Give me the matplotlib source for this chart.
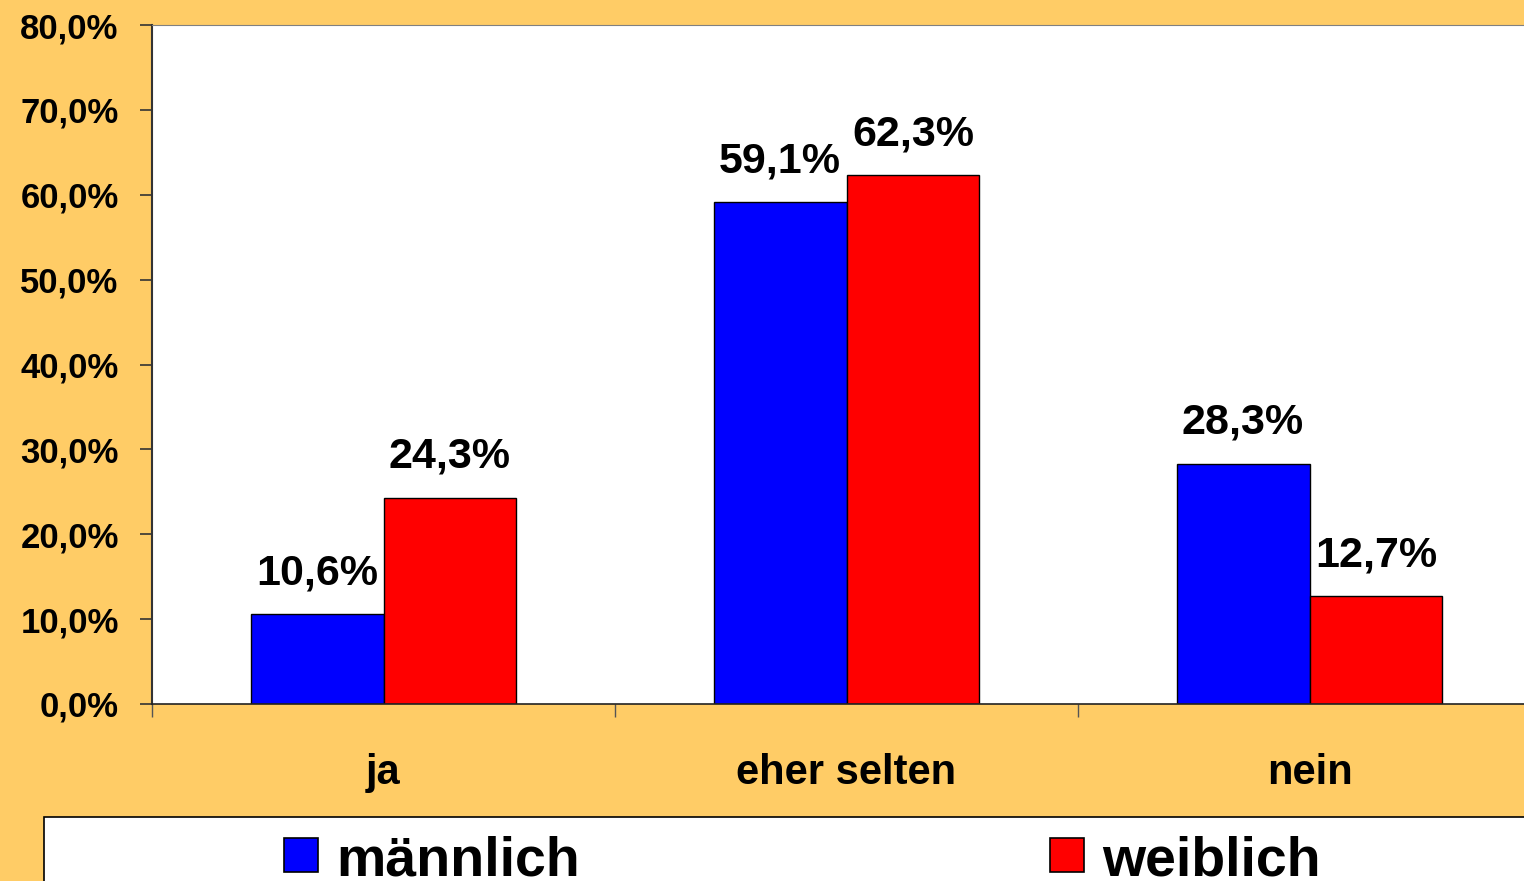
import numpy as np
import matplotlib
matplotlib.use("Agg")
import matplotlib.pyplot as plt
from matplotlib.patches import Rectangle

kategorien = ["ja", "eher selten", "nein"]
maennlich = [10.6, 59.1, 28.3]
weiblich = [24.3, 62.3, 12.7]
serien = ["männlich", "weiblich"]
farben = ["#0000FF", "#FF0000"]
y_ticks = [0, 10, 20, 30, 40, 50, 60, 70, 80]

plt.rcParams['font.family'] = ['Liberation Sans', 'DejaVu Sans']
plt.rcParams['font.weight'] = 'bold'

W, H = 1524, 881
fig = plt.figure(figsize=(W / 100, H / 100), dpi=100)
fig.patch.set_facecolor("#FFCC66")

# Achsen: links 152 px, oben 25 px, unten 704 px, rechts ueber den Rand hinaus
ax = fig.add_axes([152 / W, 1 - 704 / H, (1541 - 152) / W, (704 - 25) / H])
ax.set_facecolor("white")

x = np.arange(len(kategorien)) + 0.5
breite = 0.287
b1 = ax.bar(x - breite / 2, maennlich, breite, color=farben[0], edgecolor="black", linewidth=1.0)
b2 = ax.bar(x + breite / 2, weiblich, breite, color=farben[1], edgecolor="black", linewidth=1.0)

for bars, werte in ((b1, maennlich), (b2, weiblich)):
    for rect, w in zip(bars, werte):
        ax.annotate(f"{w:.1f}%".replace(".", ","),
                    (rect.get_x() + rect.get_width() / 2, rect.get_height()),
                    xytext=(0, 15), textcoords="offset points",
                    ha="center", va="bottom", fontsize=31, fontweight="bold")

ax.set_xlim(0, 3)
ax.set_ylim(0, 80)
ax.set_yticks(y_ticks)
ax.set_yticklabels([f"{v:.1f}%".replace(".", ",") for v in y_ticks], fontsize=25, fontweight="bold")
ax.tick_params(axis="y", length=9, width=1.2, pad=15, color="#333333")

ax.set_xticks([0, 1, 2, 3])
ax.set_xticklabels([])
ax.tick_params(axis="x", which="major", length=9, width=1.0, color="#555555")
ax.set_xticks(x, minor=True)
ax.set_xticklabels(kategorien, minor=True, fontsize=30, fontweight="bold")
ax.tick_params(axis="x", which="minor", length=0, pad=35)

ax.spines["right"].set_visible(False)
ax.spines["top"].set_color("#808080")
ax.spines["left"].set_color("#333333")
ax.spines["left"].set_linewidth(1.5)
ax.spines["bottom"].set_color("#222222")
ax.spines["bottom"].set_linewidth(1.2)

# Legende unten
fig.patches.append(Rectangle((44 / W, -0.05), (1540 - 44) / W, 0.05 + (1 - 817 / H),
                             transform=fig.transFigure, facecolor="white",
                             edgecolor="black", linewidth=1.2, clip_on=False))
leg_x = [284, 1050]
for px, name, farbe in zip(leg_x, serien, farben):
    fig.patches.append(Rectangle((px / W, 1 - 872 / H), 34 / W, 34 / H,
                                 transform=fig.transFigure, facecolor=farbe,
                                 edgecolor="black", linewidth=1.2))
    fig.text((px + 52) / W, 1 - 876 / H, name, fontsize=40, fontweight="bold",
             ha="left", va="baseline")

fig.savefig("out.png", dpi=100, facecolor=fig.get_facecolor())
